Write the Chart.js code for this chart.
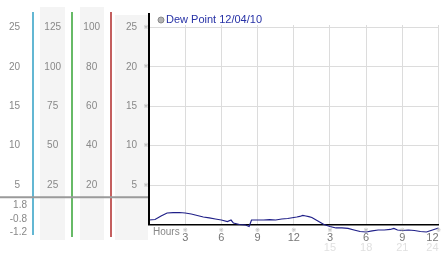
<!DOCTYPE html>
<html lang="en">
<head>
<meta charset="UTF-8">
<title>Dew Point 12/04/10</title>
<script src="https://cdn.jsdelivr.net/npm/chart.js@4.4.1/dist/chart.umd.min.js"></script>
<style>
    html, body { margin: 0; padding: 0; background: #fff; }
    #wrap { width: 442px; height: 253px; }
</style>
</head>
<body>
<div id="wrap"><canvas id="dewChart" width="442" height="253"></canvas></div>

<script>
    // Data (hours since midnight, dew point)
    const hours = [0, 0.5, 1, 1.5, 2, 2.5, 3, 3.5, 4, 4.5, 5, 5.5, 6, 6.5, 6.8, 7, 7.5, 8, 8.3, 8.5,
        9, 9.5, 10, 10.5, 11, 11.5, 12, 12.25, 12.5, 12.75, 13, 13.25, 13.5, 14, 14.5, 15, 15.5, 16,
        16.5, 17, 17.5, 18, 18.5, 19, 19.5, 20, 20.3, 20.6, 21, 21.5, 22, 22.5, 23, 23.5, 24];
    const dewPoint = [0.57, 0.63, 1.08, 1.46, 1.50, 1.52, 1.46, 1.33, 1.14, 0.95, 0.83, 0.70, 0.57, 0.38, 0.57, 0.19, 0.0, -0.06, -0.25, 0.57,
        0.57, 0.57, 0.63, 0.57, 0.70, 0.76, 0.89, 0.95, 1.02, 1.15, 1.08, 1.0, 0.89, 0.44, 0.0, -0.25, -0.44, -0.44,
        -0.5, -0.7, -0.89, -0.95, -0.82, -0.7, -0.7, -0.63, -0.5, -0.7, -0.76, -0.7, -0.76, -0.89, -0.95, -0.7, -0.44];

    const seriesLabel = 'Dew Point 12/04/10';
    const hourTicks = [3, 6, 9, 12, 15, 18, 21, 24];
    const hourLabels = ['3', '6', '9', '12', '3', '6', '9', '12'];
    const lateHourTicks = [15, 18, 21, 24];
    const lateHourLabels = ['15', '18', '21', '24'];
    const dewTicks = [5, 10, 15, 20, 25];
    const axisBTicks = [25, 50, 75, 100, 125];
    const axisCTicks = [20, 40, 60, 80, 100];
    const lowerLabels = ['1.8', '-0.8', '-1.2'];

    const FONT = '"Liberation Sans", Arial, sans-serif';
    const DEW_MAX = 25.3;

    function fixedTicks(values) {
        return function (scale) {
            scale.ticks = values.map(v => ({value: v}));
        };
    }

    // an empty tick at 0 so that 'inner' alignment only pulls in the last label
    function hourAxisTicks(values) {
        return function (scale) {
            scale.ticks = [0].concat(values).map(v => ({value: v}));
        };
    }

    function fixedWidth(w) {
        return function (scale) {
            scale.width = w;
        };
    }

    function fixedHeight(h) {
        return function (scale) {
            scale.height = h;
            scale.paddingLeft = 0;
            scale.paddingRight = 0;
        };
    }

    function sideAxis(weight, width, max, ticks, align, pad) {
        return {
            type: 'linear', position: 'left', weight: weight, min: 0, max: max,
            afterBuildTicks: fixedTicks(ticks),
            afterFit: fixedWidth(width),
            grid: {display: false, drawTicks: false},
            border: {display: false},
            ticks: {color: '#888', font: {family: FONT, size: 10}, padding: pad, crossAlign: align}
        };
    }

    // strips, coloured axis lines, legend and small markers
    const decor = {
        id: 'decor',
        beforeDraw(chart) {
            const ctx = chart.ctx;
            const s = chart.scales;
            ctx.save();
            ctx.fillStyle = '#f4f4f4';
            ctx.fillRect(s.yB.left + 7, 7, 25, 233);
            ctx.fillRect(s.yC.left + 8, 7, 24, 233);
            ctx.fillRect(s.y.left + 4, 15, 33, 225);
            ctx.restore();
        },
        afterDraw(chart) {
            const ctx = chart.ctx;
            const s = chart.scales;
            const area = chart.chartArea;
            ctx.save();

            // coloured column lines
            [[s.yA.right, '#2f9fc4', 235], [s.yB.right, '#35a335', 237], [s.yC.right, '#b02a2a', 237]]
                .forEach(([x, col, bottom]) => {
                    ctx.strokeStyle = col;
                    ctx.lineWidth = 1.5;
                    ctx.beginPath();
                    ctx.moveTo(x, 12);
                    ctx.lineTo(x, bottom);
                    ctx.stroke();
                });

            // grey separator
            const sepY = s.y.getPixelForValue(3.45);
            ctx.strokeStyle = '#9a9a9a';
            ctx.lineWidth = 2;
            ctx.beginPath();
            ctx.moveTo(0, sepY);
            ctx.lineTo(area.left - 1, sepY);
            ctx.stroke();

            // main vertical axis
            ctx.strokeStyle = '#000';
            ctx.lineWidth = 2;
            ctx.beginPath();
            ctx.moveTo(area.left, 13);
            ctx.lineTo(area.left, s.y.getPixelForValue(0));
            ctx.stroke();

            // lower labels of the first column
            ctx.fillStyle = '#888';
            ctx.font = '10px ' + FONT;
            ctx.textAlign = 'right';
            ctx.textBaseline = 'middle';
            [205.5, 219, 232.5].forEach((yy, i) => ctx.fillText(lowerLabels[i], s.yA.left + 27, yy));

            // small markers
            ctx.fillStyle = '#aaa';
            ctx.font = '6px "DejaVu Sans"';
            ctx.textAlign = 'center';
            dewTicks.forEach(v => ctx.fillText('\u203B', area.left - 3, s.y.getPixelForValue(v)));
            hourTicks.forEach(v => ctx.fillText('\u203B', s.x.getPixelForValue(v), 230));

            // "Hours"
            ctx.fillStyle = '#888';
            ctx.font = '10px ' + FONT;
            ctx.textAlign = 'left';
            ctx.fillText('Hours', area.left + 4, 232);

            // legend
            ctx.beginPath();
            ctx.arc(area.left + 12, 20, 3, 0, Math.PI * 2);
            ctx.fillStyle = '#b4b4b4';
            ctx.fill();
            ctx.strokeStyle = '#8a8a8a';
            ctx.lineWidth = 1;
            ctx.stroke();
            ctx.fillStyle = '#2631a6';
            ctx.font = '11px ' + FONT;
            ctx.fillText(chart.data.datasets[0].label, area.left + 17, 20);

            ctx.restore();
        }
    };

    const ctx = document.getElementById('dewChart');
    const dewChart = new Chart(ctx, {
        type: 'line',
        data: {
            datasets: [{
                label: seriesLabel,
                data: hours.map((h, i) => ({x: h, y: dewPoint[i]})),
                borderColor: '#1f1f88',
                borderWidth: 1.2,
                pointRadius: 0,
                tension: 0,
                clip: false,
                xAxisID: 'x',
                yAxisID: 'y'
            }]
        },
        options: {
            responsive: false,
            animation: false,
            devicePixelRatio: 1,
            layout: {autoPadding: false, padding: {top: 25, right: 3.5, bottom: 0, left: 0}},
            plugins: {legend: {display: false}, tooltip: {enabled: false}},
            scales: {
                x: {
                    type: 'linear', position: 'bottom', weight: 0, min: 0, max: 24,
                    afterBuildTicks: hourAxisTicks(hourTicks),
                    afterFit: fixedHeight(17),
                    grid: {color: '#dcdcdc', drawTicks: false},
                    border: {color: '#000', width: 1.5},
                    ticks: {
                        color: '#777', font: {family: FONT, size: 11}, padding: 7, maxRotation: 0,
                        align: 'inner', autoSkip: false,
                        callback: v => {
                            const i = hourTicks.indexOf(v);
                            return i < 0 ? '' : hourLabels[i];
                        }
                    }
                },
                x2: {
                    type: 'linear', position: 'bottom', weight: 1, min: 0, max: 24,
                    afterBuildTicks: hourAxisTicks(lateHourTicks),
                    afterFit: fixedHeight(11.5),
                    grid: {display: false, drawTicks: false},
                    border: {display: false},
                    ticks: {
                        color: '#e0e0e0', font: {family: FONT, size: 11}, padding: 0, maxRotation: 0,
                        align: 'inner', autoSkip: false,
                        callback: v => {
                            const i = lateHourTicks.indexOf(v);
                            return i < 0 ? '' : lateHourLabels[i];
                        }
                    }
                },
                y: {
                    type: 'linear', position: 'left', weight: 0, min: 0, max: DEW_MAX,
                    afterBuildTicks: fixedTicks(dewTicks),
                    afterFit: fixedWidth(38),
                    grid: {color: '#dcdcdc', drawTicks: false},
                    border: {display: false},
                    ticks: {color: '#888', font: {family: FONT, size: 10}, padding: 12, crossAlign: 'near'}
                },
                yC: sideAxis(1, 39, DEW_MAX * 4, axisCTicks, 'center', 11),
                yB: sideAxis(2, 39, DEW_MAX * 5, axisBTicks, 'center', 11),
                yA: sideAxis(3, 33, DEW_MAX, dewTicks, 'near', 13)
            }
        },
        plugins: [decor]
    });
</script>
</body>
</html>
